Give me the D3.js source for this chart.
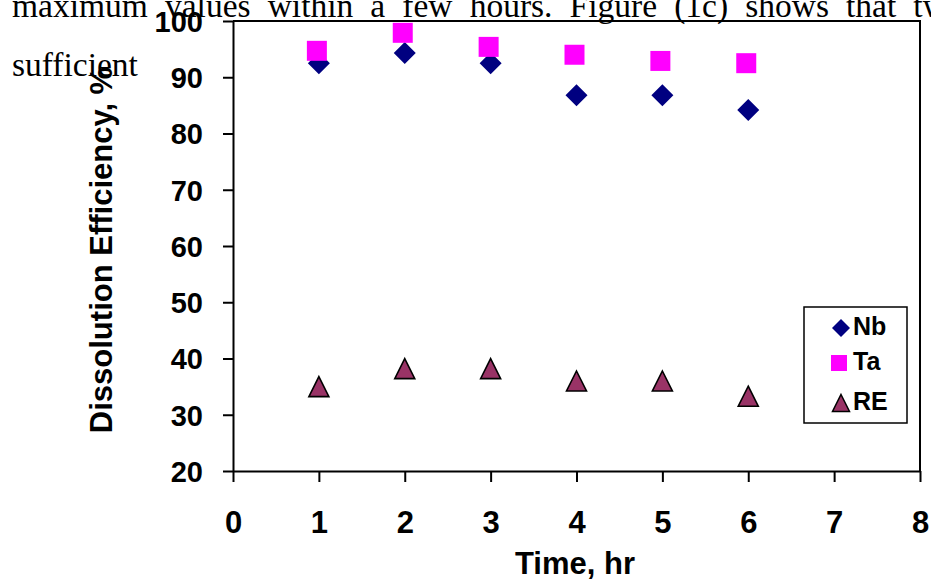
<!DOCTYPE html>
<html>
<head>
<meta charset="utf-8">
<script src="https://cdn.jsdelivr.net/npm/d3@7"></script>
<style>
  html, body { margin: 0; padding: 0; background: #fff; }
  svg { display: block; }
</style>
</head>
<body>
<svg id="chart" width="931" height="580"></svg>
<script>
// Dissolution efficiency versus leaching time
const times = [1, 2, 3, 4, 5, 6];
const nbValues = [92.5, 94.3, 92.5, 86.8, 86.8, 84.2];
const taValues = [94.7, 97.9, 95.4, 94.0, 92.9, 92.5];
const reValues = [35.0, 38.2, 38.2, 36.0, 36.0, 33.3];
const xTickValues = [0, 1, 2, 3, 4, 5, 6, 7, 8];
const yTickValues = [20, 30, 40, 50, 60, 70, 80, 90, 100];
const seriesNames = ["Nb", "Ta", "RE"];

const svg = d3.select("#chart");

const x = d3.scaleLinear().domain([0, 8]).range([233, 920]);
const y = d3.scaleLinear().domain([20, 100]).range([471, 21]);

const sans = "Arial, 'Liberation Sans', Helvetica, sans-serif";

// Body text of the surrounding page
const page = svg.append("g")
  .attr("font-family", "'Times New Roman', 'Liberation Serif', serif")
  .attr("font-size", 33.5)
  .attr("fill", "#000");

const line1 = page.append("text")
  .attr("x", 12).attr("y", 17)
  .text("maximum values within a few hours. Figure (1c) shows that tw");
// justify: spread the words so the last one starts near the right edge
{
  const words = line1.text().split(" ");
  const head = words.slice(0, -1).join(" ") + " ";
  const probe = page.append("text").attr("x", 0).attr("y", -100).text(head);
  const natural = probe.node().getComputedTextLength();
  probe.remove();
  const gaps = words.length - 1;
  const ws = Math.max(0, (905 - 12 - natural) / gaps);
  line1.attr("word-spacing", ws);
}
page.append("text")
  .attr("x", 12).attr("y", 76)
  .text("sufficient");

// Plot frame (top and right border)
svg.append("path")
  .attr("d", `M${x(0)},${y(100)}H${x(8)}V${y(20)}`)
  .attr("fill", "none")
  .attr("stroke", "#000")
  .attr("stroke-width", 2);

// Y axis
const yAxis = svg.append("g")
  .attr("transform", `translate(${x(0)},0)`)
  .call(d3.axisLeft(y).tickValues(yTickValues).tickSize(10).tickSizeOuter(0).tickPadding(20));
yAxis.select(".domain").attr("stroke-width", 2);
yAxis.selectAll(".tick line").attr("stroke-width", 2);
yAxis.selectAll(".tick text")
  .attr("font-family", sans)
  .attr("font-size", 29)
  .attr("font-weight", "bold")
  .attr("fill", "#000")
  .attr("dy", "0.36em");

// X axis
const xAxis = svg.append("g")
  .attr("transform", `translate(0,${y(20)})`)
  .call(d3.axisBottom(x).tickValues(xTickValues).tickSize(11).tickSizeOuter(0).tickPadding(0));
xAxis.select(".domain").attr("stroke-width", 2);
xAxis.selectAll(".tick line").attr("stroke-width", 2);
xAxis.selectAll(".tick text")
  .attr("font-family", sans)
  .attr("font-size", 31)
  .attr("font-weight", "bold")
  .attr("fill", "#000")
  .attr("dy", null)
  .attr("y", 62);

// Axis titles
svg.append("text")
  .attr("x", 575).attr("y", 574)
  .attr("text-anchor", "middle")
  .attr("font-family", sans)
  .attr("font-size", 31)
  .attr("font-weight", "bold")
  .text("Time, hr");

svg.append("text")
  .attr("transform", "translate(112,250) rotate(-90)")
  .attr("text-anchor", "middle")
  .attr("font-family", sans)
  .attr("font-size", 31)
  .attr("font-weight", "bold")
  .text("Dissolution Efficiency, %");

// Marker shapes
const diamond = r => `M0,${-r}L${r},0L0,${r}L${-r},0Z`;
const square = s => `M${-s / 2},${-s / 2}h${s}v${s}h${-s}Z`;
const triangle = (w, h) => `M0,${-h / 2}L${w / 2},${h / 2}L${-w / 2},${h / 2}Z`;

const marks = svg.append("g");

marks.selectAll(".nb")
  .data(times.map((t, i) => [t, nbValues[i]]))
  .join("path")
  .attr("class", "nb")
  .attr("transform", d => `translate(${x(d[0])},${y(d[1])})`)
  .attr("d", diamond(11))
  .attr("fill", "#000080");

marks.selectAll(".ta")
  .data(times.map((t, i) => [t, taValues[i]]))
  .join("path")
  .attr("class", "ta")
  .attr("transform", d => `translate(${x(d[0]) - 2},${y(d[1])})`)
  .attr("d", square(20))
  .attr("fill", "#FF00FF");

marks.selectAll(".re")
  .data(times.map((t, i) => [t, reValues[i]]))
  .join("path")
  .attr("class", "re")
  .attr("transform", d => `translate(${x(d[0])},${y(d[1])})`)
  .attr("d", triangle(20, 20))
  .attr("fill", "#993366")
  .attr("stroke", "#000")
  .attr("stroke-width", 1.6)
  .attr("stroke-linejoin", "miter");

// Legend
const legend = svg.append("g");
legend.append("rect")
  .attr("x", 804).attr("y", 307)
  .attr("width", 103).attr("height", 116)
  .attr("fill", "#fff")
  .attr("stroke", "#000")
  .attr("stroke-width", 1.5);

const legendRows = [
  { name: seriesNames[0], cy: 328, d: diamond(9), fill: "#000080", stroke: "none" },
  { name: seriesNames[1], cy: 363, d: square(16), fill: "#FF00FF", stroke: "none" },
  { name: seriesNames[2], cy: 403, d: triangle(17, 17), fill: "#993366", stroke: "#000" }
];

const rows = legend.selectAll(".row")
  .data(legendRows)
  .join("g")
  .attr("class", "row");

rows.append("path")
  .attr("transform", (d, i) => `translate(${i === 1 ? 839 : 841},${d.cy})`)
  .attr("d", d => d.d)
  .attr("fill", d => d.fill)
  .attr("stroke", d => d.stroke)
  .attr("stroke-width", 1.5);

rows.append("text")
  .attr("x", 853)
  .attr("y", d => d.cy + 7)
  .attr("font-family", sans)
  .attr("font-size", 25)
  .attr("font-weight", "bold")
  .text(d => d.name);
</script>
</body>
</html>
